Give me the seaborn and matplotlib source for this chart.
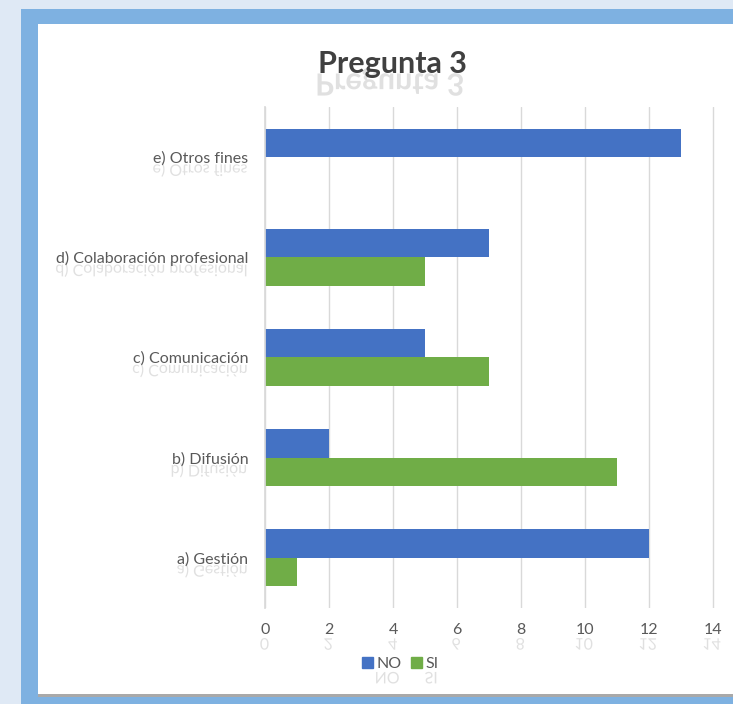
import pandas as pd
import matplotlib.pyplot as plt
import seaborn as sns
from matplotlib.patches import Rectangle, PathPatch
from matplotlib.textpath import TextPath
from matplotlib.transforms import Affine2D

# Data
categories = ["e) Otros fines", "d) Colaboración profesional", "c) Comunicación",
              "b) Difusión", "a) Gestión"]
no_values = [13, 7, 5, 2, 12]
si_values = [0, 5, 7, 11, 1]
series = ["NO", "SI"]
x_ticks = [0, 2, 4, 6, 8, 10, 12, 14]

df = pd.DataFrame({
    "categoria": categories * 2,
    "valor": no_values + si_values,
    "serie": [series[0]] * len(categories) + [series[1]] * len(categories),
})

sns.set_theme(style="white")
plt.rcParams['font.family'] = ['Lato', 'DejaVu Sans']

W, H = 733, 704
fig = plt.figure(figsize=(W / 100, H / 100), dpi=100)
fig.patch.set_facecolor("#dfe9f5")

# spreadsheet frame + white chart area (behind everything)
fig.patches.append(Rectangle((21 / W, 0), 1, 1 - 9 / H, transform=fig.transFigure,
                             facecolor="#7eb1e1", edgecolor="none", zorder=-3))
fig.patches.append(Rectangle((38 / W, 7 / H), 1, (H - 24 - 7) / H, transform=fig.transFigure,
                             facecolor="#a9a9a9", edgecolor="none", zorder=-3))
fig.patches.append(Rectangle((38 / W, 10 / H), 1, (H - 24 - 10) / H, transform=fig.transFigure,
                             facecolor="white", edgecolor="none", zorder=-3))

ax = fig.add_axes([265 / W, 96 / H, (W - 265) / W, (608 - 107) / H])
ax.set_facecolor("none")
ax.set_zorder(2)

sns.barplot(data=df, y="categoria", x="valor", hue="serie", order=categories,
            palette={"NO": "#4472c4", "SI": "#70ad47"}, width=0.57,
            saturation=1, orient="h", ax=ax, legend=False, linewidth=0)

ax.set_xlim(0, (W - 265) / 32)
ax.set_ylim(4.5, -0.5)
ax.set_xticks(x_ticks)
ax.xaxis.grid(True, color="#d9d9d9", linewidth=1)
ax.set_axisbelow(True)
for s in ["top", "right", "bottom"]:
    ax.spines[s].set_visible(False)
ax.spines["left"].set_color("#d9d9d9")
ax.tick_params(axis="both", length=0, labelsize=11.5, labelcolor="#595959")
ax.tick_params(axis="y", pad=12)
ax.tick_params(axis="x", pad=11)
ax.set_xlabel("")
ax.set_ylabel("")

title = fig.text(392 / W, 1 - 64 / H, "Pregunta 3", ha="center", va="center",
                 fontsize=22, fontweight="bold", color="#404040")

# legend
handles = [Rectangle((0, 0), 1, 1, color="#4472c4"), Rectangle((0, 0), 1, 1, color="#70ad47")]
leg = fig.legend(handles, series, loc="center", bbox_to_anchor=(400 / W, 1 - 664 / H),
                 ncol=2, frameon=False, fontsize=11.5, handlelength=0.7, handleheight=0.7,
                 handletextpad=0.2, columnspacing=0.6)
for t in leg.get_texts():
    t.set_color("#595959")

# reflection effect under texts
fig.canvas.draw()
texts = [title] + ax.get_yticklabels() + ax.get_xticklabels() + leg.get_texts()
scale = fig.dpi / 72
for t in texts:
    if not t.get_text() or not t.get_visible():
        continue
    bb = t.get_window_extent()
    path = TextPath((0, 0), t.get_text(), prop=t.get_fontproperties())
    ext = path.get_extents()
    baseline = bb.y0 - ext.y0 * scale
    tr = Affine2D().scale(scale, -scale).translate(bb.x0 - ext.x0 * scale, baseline - 1)
    fig.patches.append(PathPatch(tr.transform_path(path), transform=None,
                                 facecolor="#d4d4d4", edgecolor="none", alpha=0.7, zorder=-1))

fig.savefig("out.png", dpi=100, facecolor=fig.get_facecolor())
